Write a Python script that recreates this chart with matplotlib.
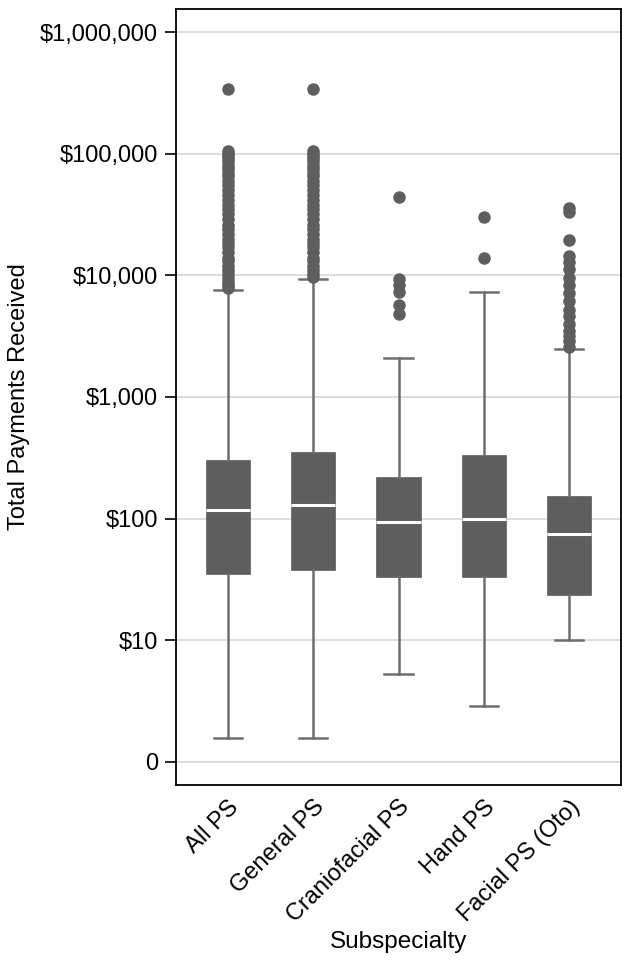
import matplotlib
matplotlib.use('Agg')
import matplotlib.pyplot as plt

plt.rcParams['font.family'] = ['Liberation Sans', 'DejaVu Sans']

categories = ['All PS', 'General PS', 'Craniofacial PS', 'Hand PS', 'Facial PS (Oto)']

# box stats
q1 = [35, 38, 33, 33, 23.7]
med = [118, 130, 93, 100, 75]
q3 = [305, 355, 221, 335, 154]
whis_lo = [1.57, 1.57, 5.3, 2.9, 10]
whis_hi = [7550, 9300, 2100, 7250, 2475]

fliers_all = [340000, 105000, 100000, 95000, 90000, 85000, 80000, 75000, 70000, 65000,
              60000, 55000, 50000, 46000, 42000, 38000, 35000, 32000, 29000, 26000,
              24000, 22000, 20000, 18500, 17000, 15500, 14000, 13000, 12000, 11000,
              10200, 9500, 8900, 8300, 7800]
fliers_gen = [340000, 105000, 100000, 95000, 90000, 85000, 80000, 75000, 70000, 65000,
              60000, 55000, 50000, 46000, 42000, 38000, 35000, 32000, 29000, 26000,
              24000, 22000, 20000, 18500, 17000, 15500, 14000, 13000, 12000, 11000,
              10300, 9700]
fliers_cran = [44000, 9400, 8300, 7250, 5700, 4800]
fliers_hand = [29900, 14000]
fliers_oto = [36000, 33000, 19500, 14500, 12800, 11200, 9600, 8300, 7200, 6200,
              5200, 4600, 4000, 3500, 3200, 2900, 2600]
fliers = [fliers_all, fliers_gen, fliers_cran, fliers_hand, fliers_oto]

ytick_vals = [1, 10, 100, 1000, 10000, 100000, 1000000]
ytick_labels = ['0', '$10', '$100', '$1,000', '$10,000', '$100,000', '$1,000,000']

stats = []
for i, name in enumerate(categories):
    stats.append(dict(label=name, q1=q1[i], med=med[i], q3=q3[i],
                      whislo=whis_lo[i], whishi=whis_hi[i], fliers=fliers[i]))

fig = plt.figure(figsize=(6.32, 9.66), dpi=100)
ax = fig.add_axes([0.2785, 0.1874, 0.7041, 0.8033])

box_col = '#5e5e5e'
line_col = '#6e6e6e'
ax.bxp(stats, positions=range(1, 6), widths=0.52, patch_artist=True,
       boxprops=dict(facecolor=box_col, edgecolor=box_col, linewidth=0.5),
       medianprops=dict(color='white', linewidth=2.2),
       whiskerprops=dict(color=line_col, linewidth=1.8),
       capprops=dict(color=line_col, linewidth=1.8),
       capwidths=0.33,
       flierprops=dict(marker='o', markersize=8, markerfacecolor=box_col,
                       markeredgecolor=box_col),
       zorder=3)

ax.set_yscale('log')
ax.set_ylim(10 ** -0.19, 10 ** 6.19)
ax.set_xlim(0.39, 5.61)
ax.set_yticks(ytick_vals)
ax.set_yticklabels(ytick_labels)
ax.minorticks_off()
ax.yaxis.grid(True, color='#dddddd', linewidth=1.4, zorder=0)
ax.set_axisbelow(True)

ax.set_xticks(range(1, 6))
ax.set_xticklabels(categories, rotation=45, ha='right', rotation_mode='anchor')
ax.tick_params(axis='x', length=0, pad=8, labelsize=17)
ax.tick_params(axis='y', length=8, width=1.2, pad=5, labelsize=17)

for sp in ax.spines.values():
    sp.set_linewidth(1.3)

ax.set_ylabel('Total Payments Received', fontsize=17)
ax.yaxis.set_label_coords(-0.328, 0.5)
ax.set_xlabel('Subspecialty', fontsize=17.5, labelpad=3)

fig.savefig('out.png', dpi=100)
